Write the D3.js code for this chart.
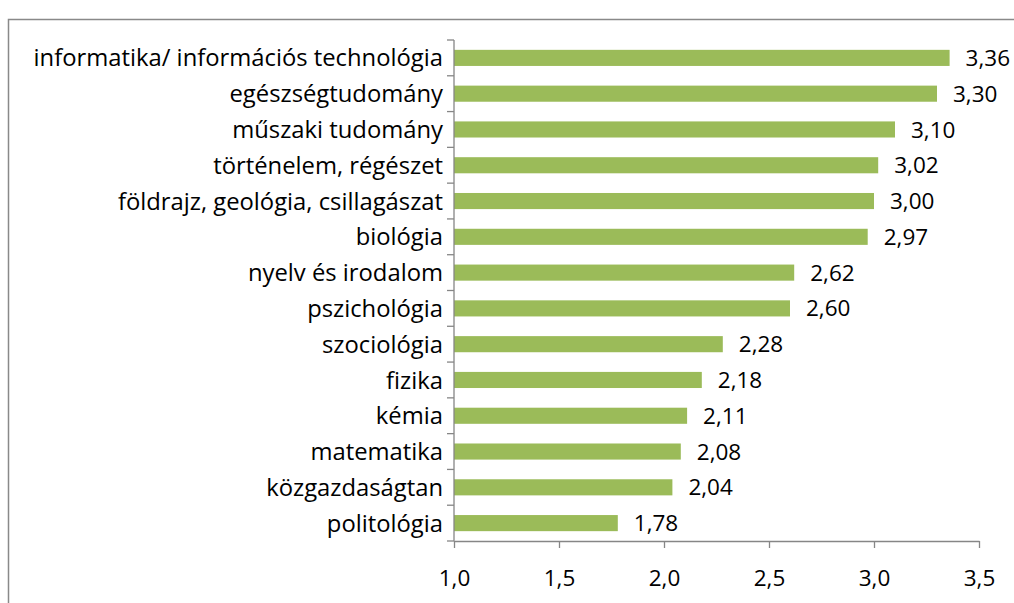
<!DOCTYPE html>
<html>
<head>
<meta charset="utf-8">
<script src="https://cdn.jsdelivr.net/npm/d3@7"></script>
<style>
  body { margin: 0; background: #fff; }
  svg text { font-family: "Open Sans", sans-serif; fill: #000; }
</style>
</head>
<body>
<svg width="1014" height="603"></svg>
<script>
var categories = ["informatika/ információs technológia", "egészségtudomány", "műszaki tudomány",
    "történelem, régészet", "földrajz, geológia, csillagászat", "biológia", "nyelv és irodalom",
    "pszichológia", "szociológia", "fizika", "kémia", "matematika", "közgazdaságtan", "politológia"];
var values = [3.36, 3.30, 3.10, 3.02, 3.00, 2.97, 2.62, 2.60, 2.28, 2.18, 2.11, 2.08, 2.04, 1.78];
var tickValues = [1.0, 1.5, 2.0, 2.5, 3.0, 3.5];

var svg = d3.select("svg");
var fmt = function (v) { return d3.format(".2f")(v).replace(".", ","); };
var fmtTick = function (v) { return d3.format(".1f")(v).replace(".", ","); };

// keret
svg.append("rect")
    .attr("x", 8.5).attr("y", 19.5)
    .attr("width", 1100).attr("height", 700)
    .attr("fill", "none").attr("stroke", "#898989").attr("stroke-width", 1.5);

var x = d3.scaleLinear().domain([1.0, 3.5]).range([454, 979]);
var y = d3.scaleBand().domain(categories).range([40, 541]).paddingInner(0.55).paddingOuter(0.275);

// sávok
svg.selectAll("rect.bar")
    .data(values)
    .enter()
    .append("rect")
    .attr("class", "bar")
    .attr("x", x(1.0))
    .attr("y", function (d, i) { return y(categories[i]); })
    .attr("width", function (d) { return x(d) - x(1.0); })
    .attr("height", y.bandwidth())
    .attr("fill", "#9BBB59");

// értékek
svg.selectAll("text.val")
    .data(values)
    .enter()
    .append("text")
    .attr("class", "val")
    .attr("x", function (d) { return x(d) + 16; })
    .attr("y", function (d, i) { return y(categories[i]) + y.bandwidth() / 2; })
    .attr("dy", "0.36em")
    .attr("font-size", 22.5)
    .text(function (d) { return fmt(d); });

// x tengely
var xAxis = svg.append("g")
    .attr("transform", "translate(0,541)")
    .call(d3.axisBottom(x).tickValues(tickValues).tickSize(7).tickSizeOuter(0).tickFormat(fmtTick));
xAxis.selectAll("line, path").attr("stroke", "#868686").attr("stroke-width", 1.3);
xAxis.selectAll("text").attr("font-size", 22.5).attr("dy", "1.55em").attr("font-family", "'Open Sans', sans-serif");

// y tengely, beosztás a sávhatárokon
var step = y.step();
var yAxis = svg.append("g").attr("transform", "translate(" + x(1.0) + ",0)");
yAxis.append("line")
    .attr("x1", 0).attr("x2", 0).attr("y1", 40).attr("y2", 541)
    .attr("stroke", "#868686").attr("stroke-width", 1.3);
yAxis.selectAll("line.tick")
    .data(d3.range(categories.length + 1))
    .enter()
    .append("line")
    .attr("class", "tick")
    .attr("x1", -7).attr("x2", 0)
    .attr("y1", function (i) { return 40 + i * step; })
    .attr("y2", function (i) { return 40 + i * step; })
    .attr("stroke", "#868686").attr("stroke-width", 1.3);

svg.selectAll("text.cat")
    .data(categories)
    .enter()
    .append("text")
    .attr("class", "cat")
    .attr("x", 443)
    .attr("y", function (d) { return y(d) + y.bandwidth() / 2; })
    .attr("dy", "0.36em")
    .attr("text-anchor", "end")
    .attr("font-size", 23.8)
    .text(function (d) { return d; });
</script>
</body>
</html>
